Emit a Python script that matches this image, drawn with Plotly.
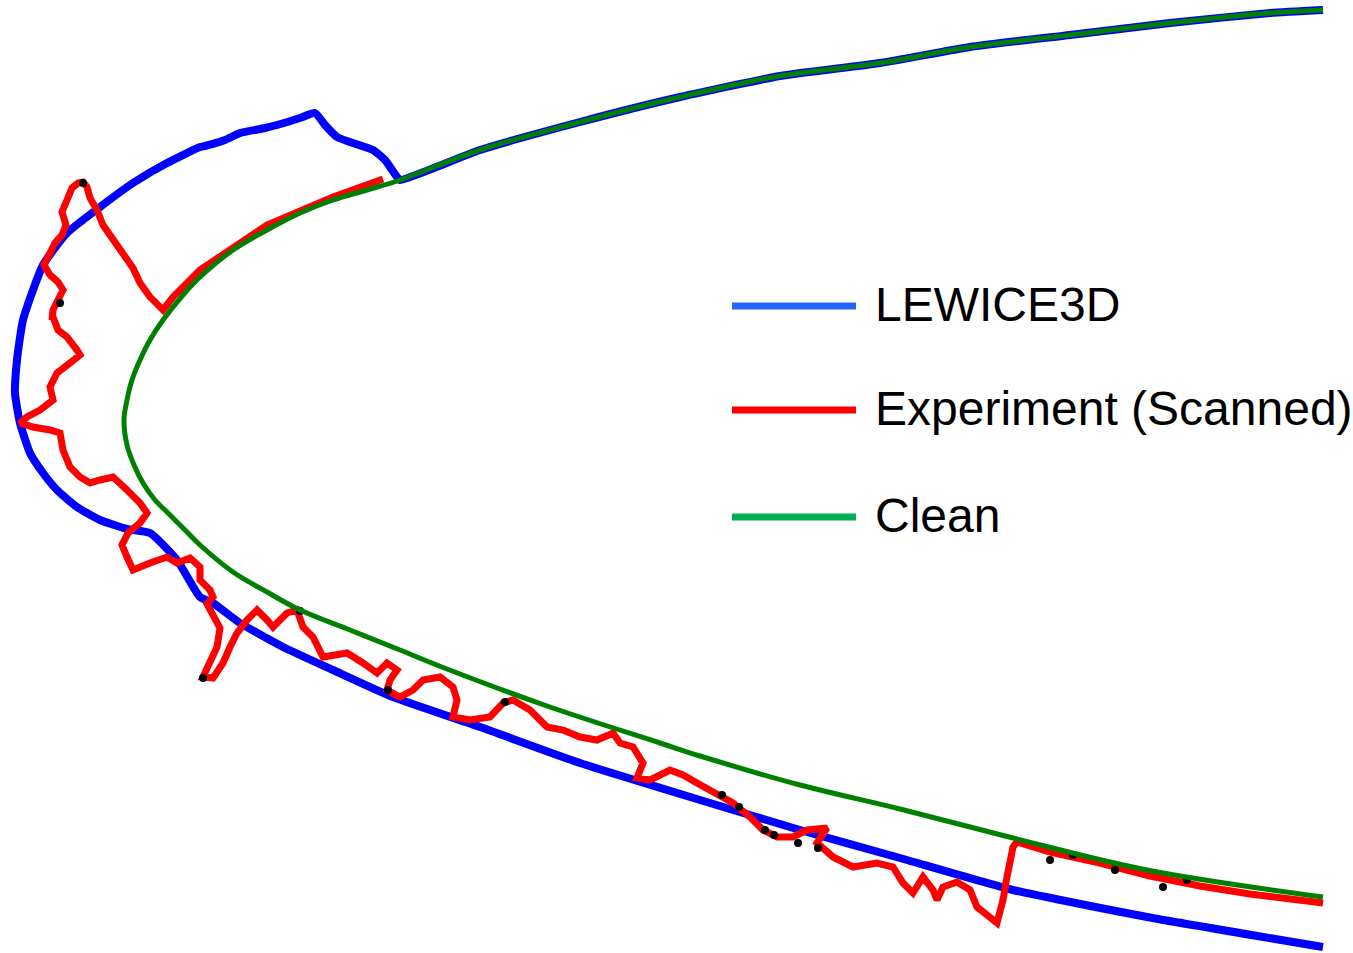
import plotly.graph_objects as go

# ---- Data (x to the right, y downward, picture units) ----
clean_x = [1323, 1270, 1170, 1070, 970, 880, 780, 680, 580, 480, 400, 367, 333, 300, 267, 233,
           200, 183, 163, 150, 140, 132, 127, 124, 127, 134, 143, 155, 168, 185, 200, 233, 267,
           300, 350, 400, 447, 547, 660, 700, 800, 900, 1013, 1147, 1323]
clean_y = [10, 13, 23, 35, 47, 63, 76, 97, 122, 150, 180, 190, 200, 213, 230, 250,
           277, 295, 320, 340, 360, 380, 400, 420, 445, 465, 483, 500, 513, 530, 545, 572, 592,
           610, 630, 650, 669, 706, 743, 756, 785, 809, 838, 870, 897]

lewice_x = [1323, 1270, 1170, 1070, 970, 880, 780, 680, 580, 480, 400, 397, 385, 373, 350, 337,
            325, 315, 300, 277, 265, 240, 225, 205, 200, 167, 133, 100, 67, 43, 23, 17, 15, 20,
            30, 43, 57, 77, 100, 127, 150, 177, 200, 213, 240, 283, 333, 393, 480, 580, 700,
            800, 900, 1013, 1147, 1323]
lewice_y = [10, 13, 23, 35, 47, 63, 76, 97, 122, 150, 180, 177, 160, 150, 142, 137,
            125, 113, 118, 125, 128, 133, 140, 146, 147, 163, 183, 207, 233, 265, 320, 360, 393, 423,
            453, 473, 490, 507, 520, 529, 533, 560, 597, 603, 623, 647, 670, 697, 727, 763, 800,
            830, 858, 890, 917, 947]

exp_x = [383, 333, 267, 200, 173, 163, 150, 140, 133, 117, 103, 97, 90, 87, 83, 78, 72, 67, 62,
         66, 62, 55, 50, 44, 50, 58, 63, 58, 53, 52, 53, 58, 67, 77, 80, 70, 57, 50, 53, 40,
         27, 20, 33, 50, 60, 63, 70, 80, 90, 100, 113, 127, 140, 147, 140, 128, 122, 127, 133,
         150, 167, 177, 190, 200, 200, 210, 213, 207, 213, 220, 217, 207, 203, 213, 223, 230,
         237, 247, 257, 267, 273, 287, 297, 303, 313, 323, 347, 363, 377, 387, 397, 390, 387,
         400, 413, 423, 440, 453, 457, 453, 470, 490, 503, 513, 530, 547, 563, 580, 597, 613,
         620, 633, 643, 637, 650, 670, 683, 697, 710, 720, 733, 750, 763, 777, 793, 807, 827,
         817, 833, 853, 877, 893, 903, 913, 923, 933, 937, 943, 957, 970, 977, 997, 1003, 1007,
         1013, 1017, 1050, 1100, 1150, 1200, 1250, 1323]
exp_y = [179, 197, 225, 270, 297, 310, 297, 283, 268, 245, 225, 210, 198, 187, 182, 183, 188, 200,
         212, 225, 235, 243, 255, 265, 275, 282, 290, 300, 310, 320, 317, 330, 337, 350, 355,
         363, 373, 387, 400, 410, 417, 423, 427, 430, 433, 450, 467, 477, 483, 480, 477, 490,
         503, 513, 523, 533, 545, 557, 570, 563, 557, 563, 558, 567, 580, 590, 597, 604, 617,
         628, 647, 667, 677, 678, 663, 647, 633, 620, 610, 620, 627, 613, 610, 627, 637, 657,
         653, 663, 673, 663, 670, 680, 690, 697, 690, 680, 677, 687, 700, 717, 720, 717, 703,
         700, 710, 727, 730, 737, 740, 733, 743, 747, 763, 778, 780, 770, 775, 783, 790, 797,
         803, 817, 830, 837, 837, 830, 828, 843, 857, 867, 863, 867, 883, 893, 877, 890, 900,
         887, 882, 890, 907, 923, 900, 877, 847, 842, 852, 863, 876, 886, 894, 903]

dot_x = [83, 60, 203, 300, 388, 505, 722, 739, 765, 774, 798, 818, 1050, 1073, 1115, 1163, 1187]
dot_y = [183, 303, 678, 611, 690, 702, 795, 807, 830, 835, 843, 848, 860, 855, 870, 887, 880]

legend_names = ["LEWICE3D", "Experiment (Scanned)", "Clean"]
legend_colors = ["#2264FF", "#FF0000", "#00B050"]
legend_rows_y = [306, 410, 517]

fig = go.Figure()
fig.add_trace(go.Scatter(x=lewice_x, y=lewice_y, mode="lines", name="LEWICE3D",
                         line=dict(color="#0000FF", width=8, shape="spline", smoothing=0.5),
                         showlegend=False))
fig.add_trace(go.Scatter(x=exp_x, y=exp_y, mode="lines", name="Experiment (Scanned)",
                         line=dict(color="#FF0000", width=7), showlegend=False))
fig.add_trace(go.Scatter(x=dot_x, y=dot_y, mode="markers", name="scan points",
                         marker=dict(color="black", size=8), showlegend=False))
fig.add_trace(go.Scatter(x=clean_x, y=clean_y, mode="lines", name="Clean",
                         line=dict(color="#008000", width=5, shape="spline", smoothing=1),
                         showlegend=False))

# legend drawn manually (long line samples, large text)
for name, col, yy in zip(legend_names, legend_colors, legend_rows_y):
    fig.add_shape(type="line", xref="x", yref="y", x0=732, x1=856, y0=yy, y1=yy,
                  line=dict(color=col, width=7))
    fig.add_annotation(x=873, y=yy - 2, xref="x", yref="y", text=name, showarrow=False,
                       xanchor="left", yanchor="middle",
                       font=dict(family="Arial, Liberation Sans", size=48, color="black"))

fig.update_layout(
    width=1353, height=953, autosize=False,
    margin=dict(l=0, r=0, t=0, b=0),
    paper_bgcolor="white", plot_bgcolor="white",
    xaxis=dict(range=[0, 1353], visible=False, fixedrange=True),
    yaxis=dict(range=[953, 0], visible=False, fixedrange=True),
    showlegend=False,
)
fig.write_html("out.html")
